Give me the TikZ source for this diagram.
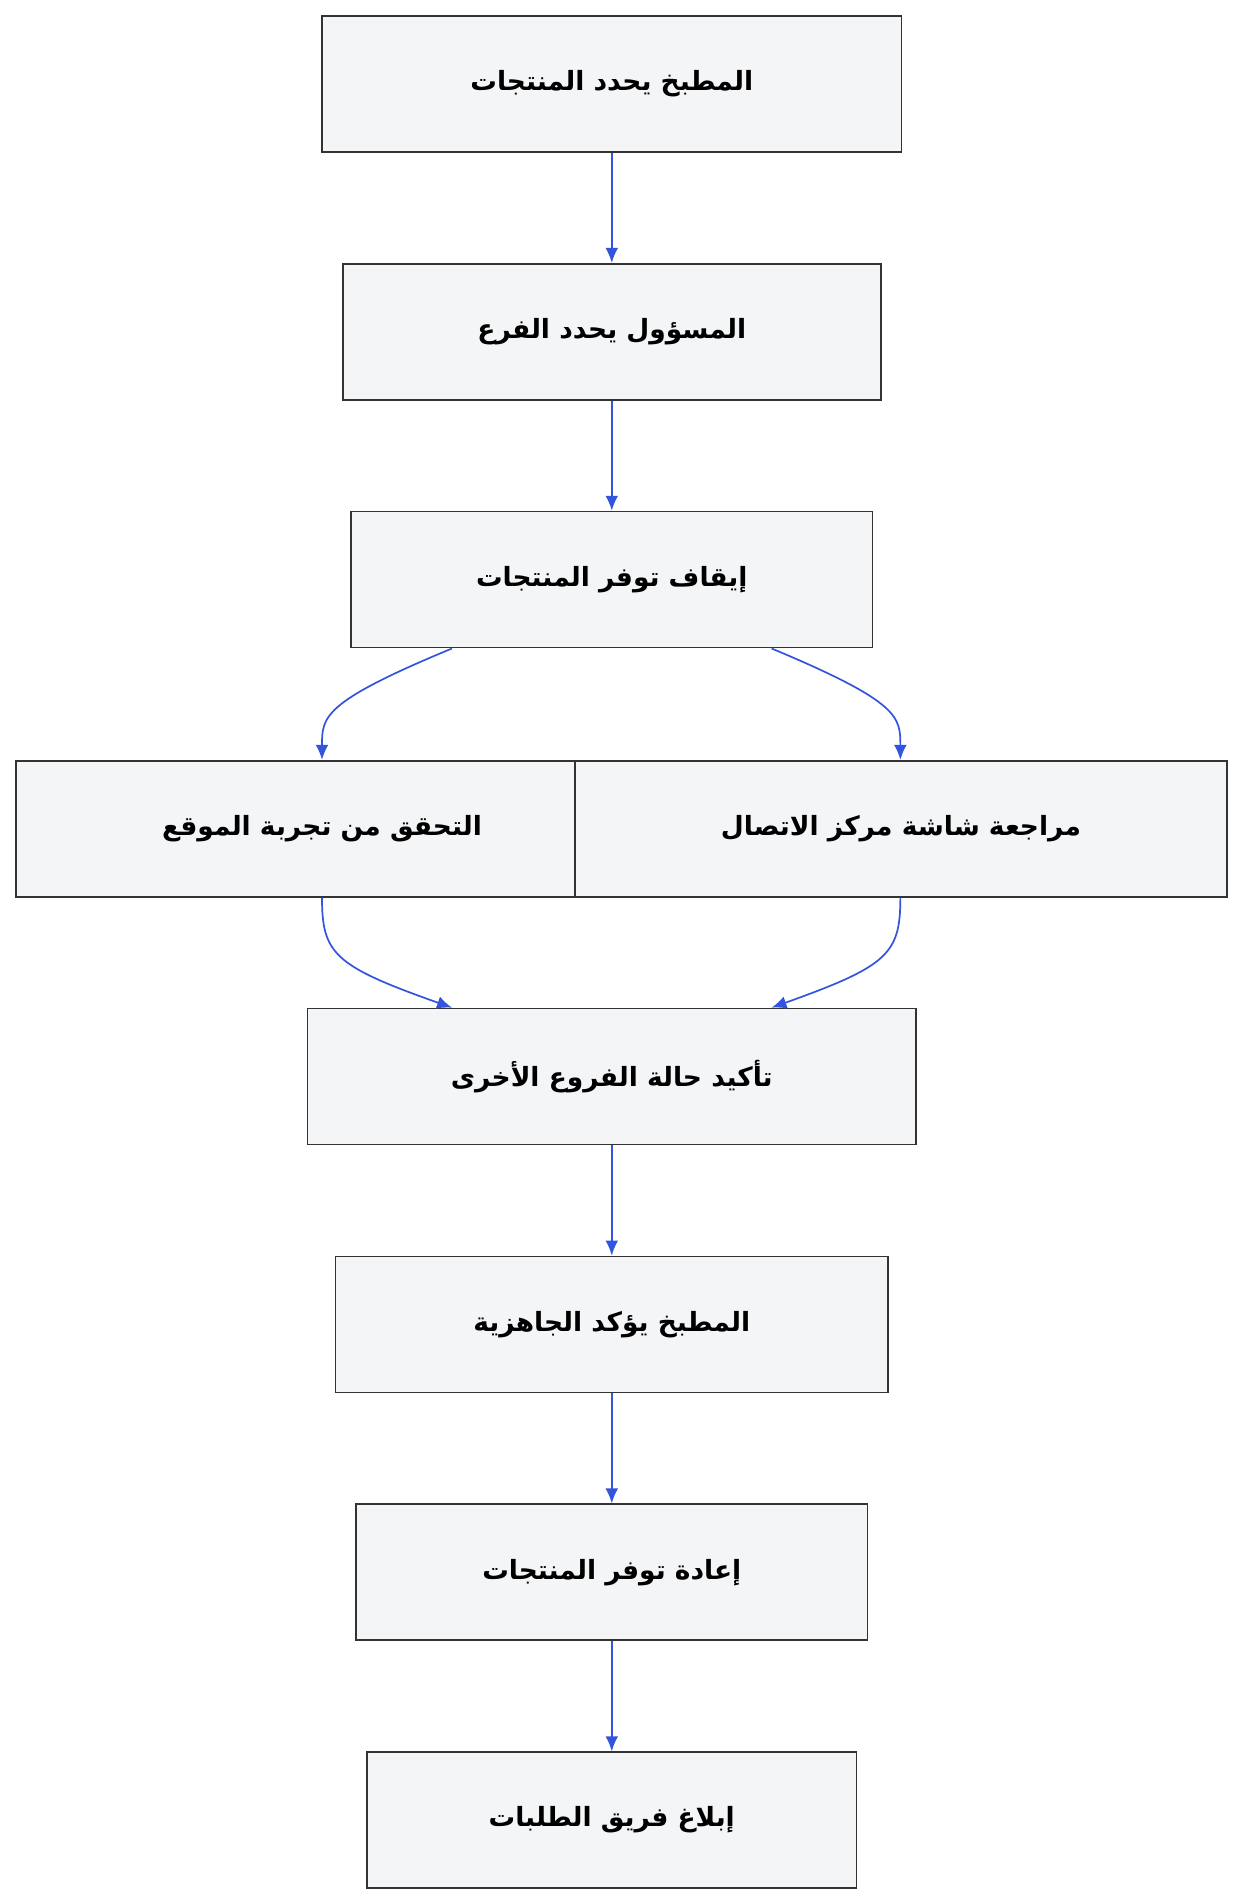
\documentclass[tikz,border=0pt]{standalone}
\usepackage{fontspec}
\usetikzlibrary{arrows.meta}
\newfontfamily\arabicfont[Script=Arabic]{DejaVu Sans}
\TeXXeTstate=1
\newcommand{\artxt}[1]{{\arabicfont\bfseries\beginR #1\endR}}
\definecolor{boxfill}{HTML}{F4F5F7}
\definecolor{boxline}{HTML}{333333}
\definecolor{flowblue}{HTML}{3355DD}
\begin{document}
\begin{tikzpicture}[x=0.02cm,y=-0.02cm,
  stepbox/.style={draw=boxline,fill=boxfill,line width=0.8pt,minimum height=2.24cm,
    inner sep=0pt,font=\fontsize{12.4}{15}\selectfont},
  flow/.style={draw=flowblue,line width=0.8pt,-{Latex[length=7pt,width=6pt]}}]
\useasboundingbox (0,0) rectangle (1024,1567);
\node[stepbox,minimum width=9.54cm] (kitchen) at (503.5,69) {\artxt{المطبخ يحدد المنتجات}};
\node[stepbox,minimum width=8.86cm] (manager) at (503.5,273) {\artxt{المسؤول يحدد الفرع}};
\node[stepbox,minimum width=8.58cm] (stop) at (503.5,477) {\artxt{إيقاف توفر المنتجات}};
\node[stepbox,minimum width=9.2cm] (site) at (243,682) {\hspace{0.88cm}\artxt{التحقق من تجربة الموقع}};
\node[stepbox,minimum width=10.74cm] (screen) at (741.5,682) {\artxt{مراجعة شاشة مركز الاتصال}};
\node[stepbox,minimum width=10.02cm] (branches) at (503.5,886) {\artxt{تأكيد حالة الفروع الأخرى}};
\node[stepbox,minimum width=9.1cm] (ready) at (503.5,1090) {\artxt{المطبخ يؤكد الجاهزية}};
\node[stepbox,minimum width=8.42cm] (restore) at (503.5,1294) {\artxt{إعادة توفر المنتجات}};
\node[stepbox,minimum width=8.06cm] (notify) at (503.5,1498) {\artxt{إبلاغ فريق الطلبات}};
% straight links
\draw[flow] (kitchen) -- (manager);
\draw[flow] (manager) -- (stop);
\draw[flow] (branches) -- (ready);
\draw[flow] (ready) -- (restore);
\draw[flow] (restore) -- (notify);
% fork and join
\draw[flow] (stop.south -| 372,0) .. controls (265,578) and (265,590) .. (site.north -| 265,0);
\draw[flow] (stop.south -| 635,0) .. controls (741,578) and (741,590) .. (screen.north -| 741,0);
\draw[flow] (site.south -| 265,0) .. controls (265,785) and (275,795) .. (branches.north -| 372,0);
\draw[flow] (screen.south -| 741,0) .. controls (741,785) and (731,795) .. (branches.north -| 635,0);
\end{tikzpicture}
\end{document}
